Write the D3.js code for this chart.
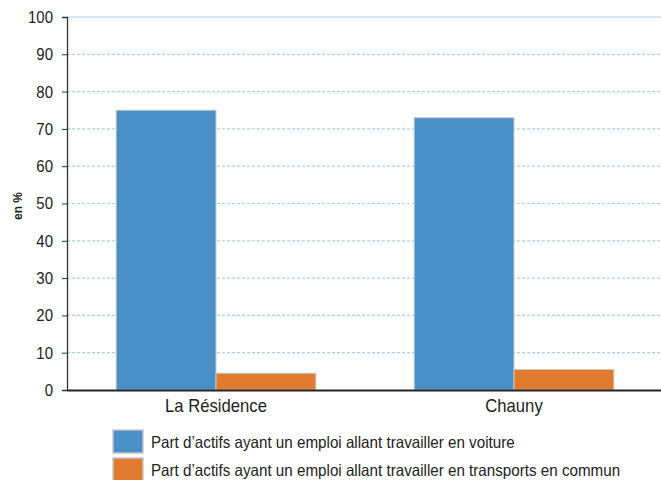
<!DOCTYPE html>
<html>
<head>
<meta charset="utf-8">
<script src="https://cdn.jsdelivr.net/npm/d3@7"></script>
<style>
  body { margin: 0; background: #fff; }
  text { font-family: "Liberation Sans", Arial, sans-serif; fill: #222; }
</style>
</head>
<body>
<div id="chart"></div>
<script>
// data
var communes = ["La Résidence", "Chauny"];
var series = ["voiture", "transports"];
var seriesLabels = [
  "Part d\u2019actifs ayant un emploi allant travailler en voiture",
  "Part d\u2019actifs ayant un emploi allant travailler en transports en commun"
];
var voiture = [75, 73];
var transports = [4.5, 5.5];
var yTicks = [0, 10, 20, 30, 40, 50, 60, 70, 80, 90, 100];

var colors = ["#4a90c6", "#e07b30"];

// dimensions
var W = 661, H = 480;
var margin = {top: 17, right: 0, bottom: 90, left: 67};
var width = W - margin.left - margin.right,
    height = H - margin.top - margin.bottom;

var svg = d3.select("#chart").append("svg")
  .attr("width", W).attr("height", H);

var g = svg.append("g")
  .attr("transform", "translate(" + margin.left + "," + margin.top + ")");

// squeeze text horizontally (reference uses a condensed face)
function condense(sel, k) {
  sel.each(function() {
    var len = this.getComputedTextLength();
    d3.select(this).attr("textLength", len * k).attr("lengthAdjust", "spacingAndGlyphs");
  });
}

// build rows
var data = communes.map(function(c, i) {
  return {commune: c, voiture: voiture[i], transports: transports[i]};
});

var x0 = d3.scaleBand().domain(communes).range([0, width + 2]).paddingInner(0.33).paddingOuter(0.165);
var x1 = d3.scaleBand().domain(series).range([0, x0.bandwidth()]);
var y = d3.scaleLinear().domain([0, 100]).range([height, 0]);
var color = d3.scaleOrdinal().domain(series).range(colors);

// gridlines
g.selectAll(".grid")
  .data(yTicks.filter(function(d) { return d > 0; }))
  .enter().append("line")
  .attr("x1", 0).attr("x2", width)
  .attr("y1", function(d) { return y(d); })
  .attr("y2", function(d) { return y(d); })
  .attr("stroke", "#a3d3f0")
  .attr("stroke-width", 1.2)
  .attr("stroke-dasharray", function(d) { return d === 100 ? null : "3,2"; });

// bars
var groups = g.selectAll(".grp")
  .data(data)
  .enter().append("g")
  .attr("transform", function(d) { return "translate(" + x0(d.commune) + ",0)"; });

groups.selectAll("rect")
  .data(function(d) { return series.map(function(s) { return {key: s, value: d[s]}; }); })
  .enter().append("rect")
  .attr("x", function(d) { return x1(d.key); })
  .attr("y", function(d) { return y(d.value); })
  .attr("width", x1.bandwidth())
  .attr("height", function(d) { return height - y(d.value); })
  .attr("fill", function(d) { return color(d.key); })
  .attr("stroke", "#c8c8c8")
  .attr("stroke-width", 1);

// y axis
var yAxis = g.append("g")
  .call(d3.axisLeft(y).tickValues(yTicks).tickSize(5).tickPadding(9));
yAxis.select(".domain").attr("stroke", "#333").attr("stroke-width", 1.3);
yAxis.selectAll(".tick line").attr("stroke", "#333");
yAxis.selectAll(".tick text")
  .style("font-family", "'Liberation Sans', Arial, sans-serif")
  .style("font-size", "17px").attr("fill", "#222")
  .call(condense, 0.88);

// x axis
var xAxis = g.append("g")
  .attr("transform", "translate(0," + height + ")")
  .call(d3.axisBottom(x0).tickSize(0).tickPadding(9));
xAxis.select(".domain").attr("stroke", "#222").attr("stroke-width", 2);
xAxis.selectAll(".tick text")
  .style("font-family", "'Liberation Sans', Arial, sans-serif")
  .style("font-size", "18.5px").attr("fill", "#222")
  .call(condense, 0.9);

// y label
svg.append("text")
  .attr("transform", "translate(22,206) rotate(-90)")
  .attr("text-anchor", "middle")
  .style("font-size", "12px")
  .style("font-weight", "bold")
  .text("en %");

// legend
var legend = svg.selectAll(".legend")
  .data(series)
  .enter().append("g")
  .attr("transform", function(d, i) { return "translate(113," + (430 + i * 28) + ")"; });

legend.append("rect")
  .attr("width", 30).attr("height", 23)
  .attr("fill", function(d) { return color(d); })
  .attr("stroke", "#c8c8c8").attr("stroke-width", 1.5);

legend.append("text")
  .attr("x", 38).attr("y", 18)
  .style("font-size", "16.5px")
  .text(function(d, i) { return seriesLabels[i]; })
  .call(condense, 0.92);
</script>
</body>
</html>
